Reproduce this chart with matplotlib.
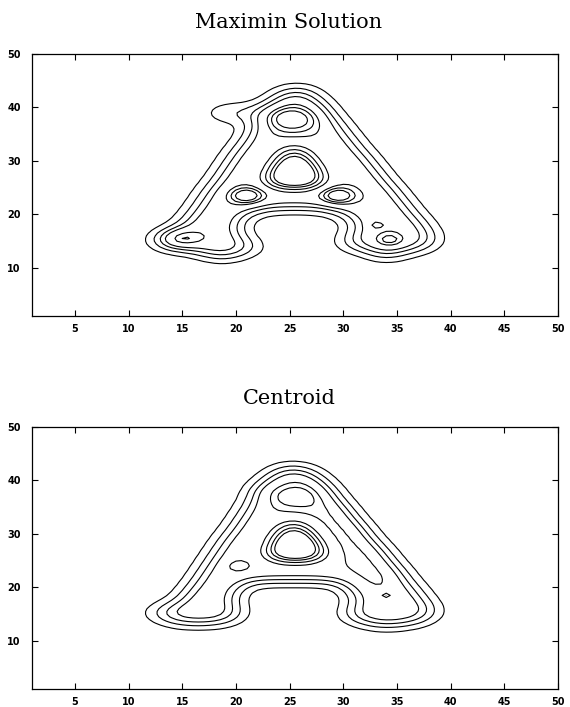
import numpy as np
import matplotlib
matplotlib.use('Agg')
import matplotlib.pyplot as plt
from matplotlib.path import Path

# Letter outlines (data units), one set per panel
maximin_letter = [(12.0, 15.2), (13.3, 13.9), (15.5, 13.6), (17.2, 12.4), (18.2, 11.3),
                  (19.5, 12.4), (21.8, 13.6), (20.0, 15.5), (19.5, 17.3), (20.3, 20.0),
                  (22.5, 21.2), (28.0, 21.2), (30.5, 20.0), (31.2, 17.3), (30.5, 15.0),
                  (29.4, 14.0), (30.5, 14.0), (32.5, 13.1), (33.6, 11.4), (35.0, 12.8),
                  (37.5, 13.8), (38.1, 15.0), (37.5, 16.8), (27.1, 41.8), (26.4, 43.0),
                  (25.5, 43.3), (24.6, 43.0), (23.7, 41.8), (14.7, 16.8)]
maximin_counter = [(22.7, 25.0), (27.8, 25.0), (25.2, 33.2)]
maximin_flag = [(17.8, 37.9), (23.5, 37.5), (23.5, 39.9), (17.8, 39.7)]
# local peaks: x, y, height, spread
maximin_peaks_x = [25.2, 14.8, 34.3, 21.0, 29.5, 33.0]
maximin_peaks_y = [37.8, 15.5, 15.2, 23.5, 23.5, 18.0]
maximin_peaks_h = [0.55, 0.45, 0.35, 0.60, 0.60, 0.25]
maximin_peaks_s = [1.8, 1.3, 0.9, 1.1, 1.1, 0.45]

centroid_letter = [(11.9, 15.0), (13.5, 13.9), (15.0, 13.0), (17.3, 13.2), (19.5, 13.8),
                   (19.8, 15.0), (19.2, 17.5), (20.0, 20.5), (21.5, 21.4), (28.5, 21.4),
                   (30.2, 20.5), (31.4, 17.5), (30.5, 15.0), (30.5, 14.3), (32.0, 13.2),
                   (33.5, 12.8), (36.2, 13.2), (37.8, 14.3), (38.0, 15.0), (37.5, 16.8),
                   (26.9, 41.2), (26.0, 41.9), (25.0, 42.1), (24.0, 41.9), (23.3, 41.2),
                   (14.7, 16.8)]
centroid_counter = [(22.7, 25.0), (27.9, 25.0), (25.2, 32.8)]
centroid_flag = [(21.5, 37.6), (23.0, 37.3), (23.0, 39.0), (21.7, 38.8)]
centroid_peaks_x = [25.2, 20.2, 34.0, 26.8, 27.6, 28.5, 29.3, 30.1, 30.9, 31.8, 32.6, 33.4]
centroid_peaks_y = [36.8, 24.0, 18.5, 39.0, 36.8, 34.6, 32.4, 30.3, 28.1, 25.9, 23.7, 21.5]
centroid_peaks_h = [0.28, 0.20, 0.22, 0.10, 0.10, 0.10, 0.10, 0.10, 0.10, 0.10, 0.10, 0.10]
centroid_peaks_s = [1.7, 0.8, 0.25, 1.5, 1.5, 1.5, 1.5, 1.5, 1.5, 1.5, 1.5, 1.5]

levels = [0.12, 0.3, 0.5, 0.7, 1.05, 1.2, 1.35]

step = 0.5
gx = np.arange(1, 50 + step, step)
X, Y = np.meshgrid(gx, gx)
pts = np.column_stack([X.ravel(), Y.ravel()])


def mask(poly):
    return Path(poly).contains_points(pts).reshape(X.shape).astype(float)


def blur(a, sigma=1.3):
    t = np.arange(-4 * sigma, 4 * sigma + step, step)
    k = np.exp(-0.5 * (t / sigma) ** 2)
    k /= k.sum()
    a = np.apply_along_axis(lambda r: np.convolve(r, k, mode='same'), 0, a)
    return np.apply_along_axis(lambda r: np.convolve(r, k, mode='same'), 1, a)


def field(letter, counter, flag, px, py, ph, ps, flag_w):
    z = mask(letter) - 2.0 * mask(counter) + flag_w * mask(flag)
    z = blur(z)
    for x0, y0, h, s in zip(px, py, ph, ps):
        z += h * np.exp(-((X - x0) ** 2 + (Y - y0) ** 2) / (2 * s ** 2))
    return z


panels = [
    ('Maximin Solution', field(maximin_letter, maximin_counter, maximin_flag,
                               maximin_peaks_x, maximin_peaks_y, maximin_peaks_h,
                               maximin_peaks_s, 0.5)),
    ('Centroid', field(centroid_letter, centroid_counter, centroid_flag,
                       centroid_peaks_x, centroid_peaks_y, centroid_peaks_h,
                       centroid_peaks_s, 0.6)),
]

fig = plt.figure(figsize=(5.7, 7.07), dpi=100)
boxes = [[0.0561, 0.553, 0.9228, 0.3706], [0.0561, 0.0255, 0.9228, 0.3706]]
title_y = [0.968, 0.437]

for (title, z), box, ty in zip(panels, boxes, title_y):
    ax = fig.add_axes(box)
    ax.contour(X, Y, z, levels=levels, colors='black', linewidths=0.8)
    ax.set_xlim(1, 50)
    ax.set_ylim(1, 50)
    ax.set_xticks([5, 10, 15, 20, 25, 30, 35, 40, 45, 50])
    ax.set_yticks([10, 20, 30, 40, 50])
    ax.tick_params(direction='in', length=4, width=0.8, top=True, right=True, labelsize=7)
    ax.tick_params(axis='x', pad=6)
    ax.tick_params(axis='y', pad=8)
    for lab in ax.get_xticklabels() + ax.get_yticklabels():
        lab.set_fontweight('bold')
    for sp in ax.spines.values():
        sp.set_linewidth(0.9)
    fig.text(0.507, ty, title, ha='center', va='center', family='DejaVu Serif', fontsize=15)

fig.savefig('out.png', dpi=100)
